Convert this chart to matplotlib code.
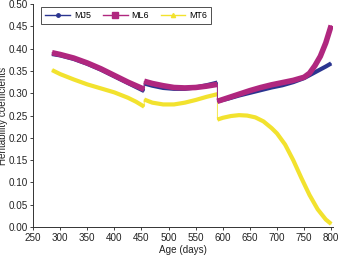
import matplotlib
matplotlib.use("Agg")
import matplotlib.pyplot as plt
from matplotlib.lines import Line2D
import numpy as np

plt.rcParams['font.family'] = ['Liberation Sans', 'DejaVu Sans']

# Ages (days); repeated ages mark the jumps between segments
ages_mj5 = [285, 300, 325, 350, 375, 400, 425, 440, 455,
            455, 470, 490, 510, 530, 550, 570, 590,
            590, 610, 630, 650, 670, 690, 710, 730, 750, 770, 790, 800]
mj5 = [0.388, 0.385, 0.377, 0.366, 0.353, 0.338, 0.323, 0.314, 0.305,
       0.322, 0.317, 0.312, 0.310, 0.310, 0.313, 0.318, 0.324,
       0.282, 0.288, 0.295, 0.301, 0.307, 0.313, 0.318, 0.325, 0.334, 0.347, 0.360, 0.367]

ages_ml6 = [285, 300, 325, 350, 375, 400, 425, 440, 455,
            455, 470, 490, 510, 530, 550, 570, 590,
            590, 610, 630, 650, 670, 690, 710, 730, 750, 760, 770, 780, 790, 800]
ml6 = [0.391, 0.387, 0.379, 0.368, 0.355, 0.340, 0.325, 0.317, 0.309,
       0.327, 0.322, 0.317, 0.313, 0.312, 0.313, 0.316, 0.320,
       0.282, 0.290, 0.298, 0.306, 0.313, 0.319, 0.324, 0.329, 0.336, 0.345, 0.362, 0.383, 0.413, 0.452]

ages_mt6 = [285, 300, 325, 350, 375, 400, 425, 440, 455,
            455, 470, 490, 510, 530, 550, 570, 590,
            590, 600, 615, 630, 645, 660, 675, 690, 700, 715, 730, 745, 760, 775, 790, 800]
mt6 = [0.352, 0.343, 0.331, 0.320, 0.311, 0.302, 0.290, 0.281, 0.270,
       0.286, 0.279, 0.275, 0.275, 0.279, 0.285, 0.292, 0.298,
       0.241, 0.245, 0.249, 0.251, 0.250, 0.246, 0.237, 0.222, 0.210, 0.185, 0.150, 0.110, 0.072, 0.040, 0.017, 0.007]

series_names = ["MJ5", "ML6", "MT6"]
colors = ["#2b3590", "#b0277f", "#f2e22e"]
markers = ["o", "s", "^"]
widths = [3.0, 4.0, 3.0]

fig = plt.figure(figsize=(3.41, 2.56), dpi=100)
ax = fig.add_axes([0.097, 0.113, 0.879, 0.871])

def segments(x, y):
    x = np.asarray(x, float); y = np.asarray(y, float)
    cuts = [0] + [i for i in range(1, len(x)) if x[i] == x[i - 1]] + [len(x)]
    return [(x[a:b], y[a:b]) for a, b in zip(cuts[:-1], cuts[1:])]

data = [(ages_mj5, mj5), (ages_ml6, ml6), (ages_mt6, mt6)]
zorders = [3, 4, 2]
for (x, y), c, w, z in zip(data, colors, widths, zorders):
    ax.plot(x, y, color=c, lw=0.6, zorder=z)
    for sx, sy in segments(x, y):
        ax.plot(sx, sy, color=c, lw=w, solid_capstyle='butt', solid_joinstyle='round', zorder=z)

ax.set_xlim(250, 803)
ax.set_ylim(0, 0.5)
ax.set_xticks(np.arange(250, 801, 50))
ax.set_yticks(np.arange(0, 0.501, 0.05))
ax.set_yticklabels([f"{v:.2f}" for v in np.arange(0, 0.501, 0.05)])
ax.tick_params(labelsize=7.1, length=2.5, width=0.6, pad=1.5, colors='#222222')
for s in ['top', 'right']:
    ax.spines[s].set_visible(False)
for s in ['left', 'bottom']:
    ax.spines[s].set_linewidth(0.7)
    ax.spines[s].set_color('#333333')

ax.set_xlabel("Age (days)", fontsize=7.1, labelpad=2, color='#222222')
ax.set_ylabel("Heritability coefficients", fontsize=7.1, color='#222222')
ax.yaxis.set_label_coords(-0.082, 0.5)

handles = [Line2D([0], [0], color=c, lw=1.0, marker=m, markersize=ms)
           for c, m, ms in zip(colors, markers, [2.5, 4, 3])]
leg = ax.legend(handles, series_names, ncol=3, loc='upper left',
                bbox_to_anchor=(0.027, 0.985), fontsize=6.4, frameon=True,
                fancybox=False, edgecolor='#222222', handlelength=2.8,
                columnspacing=1.3, handletextpad=0.45, borderpad=0.45, borderaxespad=0)
leg.get_frame().set_linewidth(0.7)

fig.savefig("out.png", dpi=100)
